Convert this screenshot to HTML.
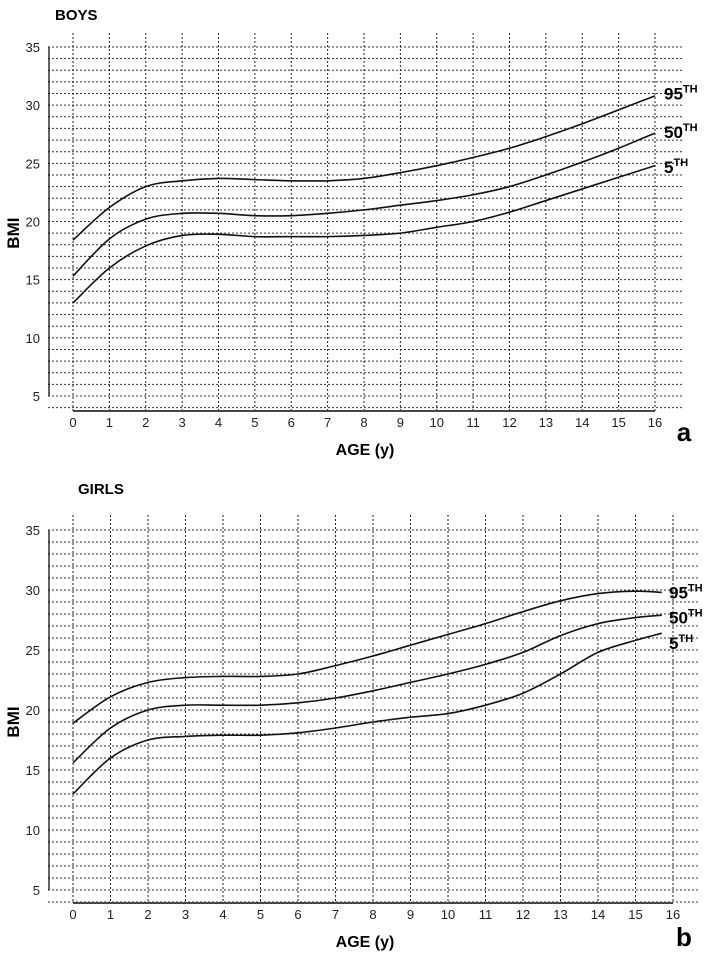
<!DOCTYPE html>
<html><head><meta charset="utf-8"><style>
html,body{margin:0;padding:0;background:#fff;}
svg{display:block;font-family:"Liberation Sans",Arial,sans-serif;}
</style></head><body>
<svg id="chart" width="709" height="958" viewBox="0 0 709 958" xmlns="http://www.w3.org/2000/svg"></svg>
<script>
const ages = [0,1,2,3,4,5,6,7,8,9,10,11,12,13,14,15,16];
const boysP95 = [18.4,21.2,23.0,23.5,23.7,23.6,23.5,23.5,23.7,24.2,24.8,25.5,26.3,27.3,28.4,29.6,30.8];
const boysP50 = [15.3,18.5,20.2,20.7,20.7,20.5,20.5,20.7,21.0,21.4,21.8,22.3,23.0,24.0,25.1,26.3,27.6];
const boysP5  = [13.0,16.0,17.9,18.8,18.9,18.7,18.7,18.7,18.8,19.0,19.5,20.0,20.8,21.8,22.8,23.8,24.8];
const girlAges = [0,1,2,3,4,5,6,7,8,9,10,11,12,13,14,15,15.7];
const girlsP95 = [18.9,21.1,22.3,22.7,22.8,22.8,23.0,23.7,24.5,25.4,26.3,27.2,28.2,29.1,29.7,29.9,29.8];
const girlsP50 = [15.6,18.5,20.0,20.4,20.4,20.4,20.6,21.0,21.6,22.3,23.0,23.8,24.8,26.2,27.2,27.7,27.9];
const girlsP5  = [13.0,16.0,17.5,17.8,17.9,17.9,18.1,18.5,19.0,19.4,19.7,20.4,21.4,23.0,24.8,25.8,26.4];
const boysLabelVals = [31.0,27.7,24.7];
const girlsLabelVals = [29.8,27.7,25.6];
const yTicks = [5,10,15,20,25,30,35];
const xTicks = [0,1,2,3,4,5,6,7,8,9,10,11,12,13,14,15,16];
const labels = ["95TH","50TH","5TH"];

const svg = document.getElementById('chart');
const NS = 'http://www.w3.org/2000/svg';
function mk(tag, attrs, name, parent){
  const e = document.createElementNS(NS, tag);
  for (const k in attrs) e.setAttribute(k, attrs[k]);
  
  
  (parent||svg).appendChild(e);
  return e;
}
function smooth(pts){
  let d = 'M'+pts[0][0]+','+pts[0][1];
  for (let i=0;i<pts.length-1;i++){
    const p0=pts[Math.max(0,i-1)], p1=pts[i], p2=pts[i+1], p3=pts[Math.min(pts.length-1,i+2)];
    const c1x=p1[0]+(p2[0]-p0[0])/6, c1y=p1[1]+(p2[1]-p0[1])/6;
    const c2x=p2[0]-(p3[0]-p1[0])/6, c2y=p2[1]-(p3[1]-p1[1])/6;
    d+=' C'+c1x+','+c1y+' '+c2x+','+c2y+' '+p2[0]+','+p2[1];
  }
  return d;
}
function panel(cfg){
  const g = mk('g', {}, cfg.name);
  const sx = v => cfg.x0 + (v-0)*(cfg.x16-cfg.x0)/16;
  const sy = v => cfg.y5 + (v-5)*(cfg.y35-cfg.y5)/30;
  const t = mk('text',{x:cfg.titleX,y:cfg.titleY,'font-size':'15','font-weight':'bold'},'panel-title',g); t.textContent=cfg.title;
  for (let v=4; v<=35; v++){
    mk('line',{x1:48,x2:cfg.gridR,y1:sy(v),y2:sy(v),stroke:'#333','stroke-width':'1','stroke-dasharray':'2,2'},'h-gridline',g);
  }
  xTicks.forEach(v=>{
    mk('line',{x1:sx(v),x2:sx(v),y1:cfg.vTop,y2:cfg.axisY,stroke:'#222','stroke-width':'1','stroke-dasharray':'2,2'},'v-gridline',g);
  });
  mk('line',{x1:49,x2:49,y1:sy(35),y2:sy(5),stroke:'#111','stroke-width':'1.3'},'y-axis-line',g);
  mk('line',{x1:sx(0),x2:sx(16),y1:cfg.axisY,y2:cfg.axisY,stroke:'#444','stroke-width':'2'},'x-axis-line',g);
  yTicks.forEach(v=>{
    const e = mk('text',{x:40,y:sy(v)+5,'font-size':'13','text-anchor':'end',fill:'#222'},'y-tick-label',g); e.textContent=v;
  });
  xTicks.forEach(v=>{
    const e = mk('text',{x:sx(v),y:cfg.axisY+16,'font-size':'13','text-anchor':'middle',fill:'#222'},'x-tick-label',g); e.textContent=v;
  });
  const yt = mk('text',{x:0,y:0,'font-size':'17','font-weight':'bold','text-anchor':'middle',transform:'translate(19,'+sy(19)+') rotate(-90)'},'y-axis-title',g); yt.textContent='BMI';
  const xt = mk('text',{x:365,y:cfg.axisY+44,'font-size':'16','font-weight':'bold','text-anchor':'middle'},'x-axis-title',g); xt.textContent='AGE (y)';
  const pl = mk('text',{x:684,y:cfg.letterY,'font-size':'26','font-weight':'bold','text-anchor':'middle'},'panel-letter',g); pl.textContent=cfg.letter;
  cfg.series.forEach((s,i)=>{
    const pts = cfg.ages.map((a,j)=>[sx(a), sy(s[j])]);
    mk('path',{d:smooth(pts),fill:'none',stroke:'#111','stroke-width':'1.6'},'curve-'+labels[i].toLowerCase(),g);
    const lab = mk('text',{x:cfg.labX,y:sy(cfg.labVals[i])+6,'font-size':'17','font-weight':'bold'},'legend-entry',g);
    lab.textContent = labels[i].replace('TH','');
    const sup = mk('tspan',{dy:'-7','font-size':'11'},'legend-suffix',lab); sup.textContent='TH';
  });
}
panel({name:'boys-panel',title:'BOYS',titleX:55,titleY:20,x0:73,x16:655,y35:47,y5:396,axisY:411,vTop:33,gridR:684,letter:'a',letterY:441,
  ages:ages,series:[boysP95,boysP50,boysP5],labX:664,labVals:boysLabelVals});
panel({name:'girls-panel',title:'GIRLS',titleX:78,titleY:494,x0:73,x16:673,y35:530,y5:890,axisY:903,vTop:515,gridR:700,letter:'b',letterY:946,
  ages:girlAges,series:[girlsP95,girlsP50,girlsP5],labX:669,labVals:girlsLabelVals});
</script>
</body></html>
